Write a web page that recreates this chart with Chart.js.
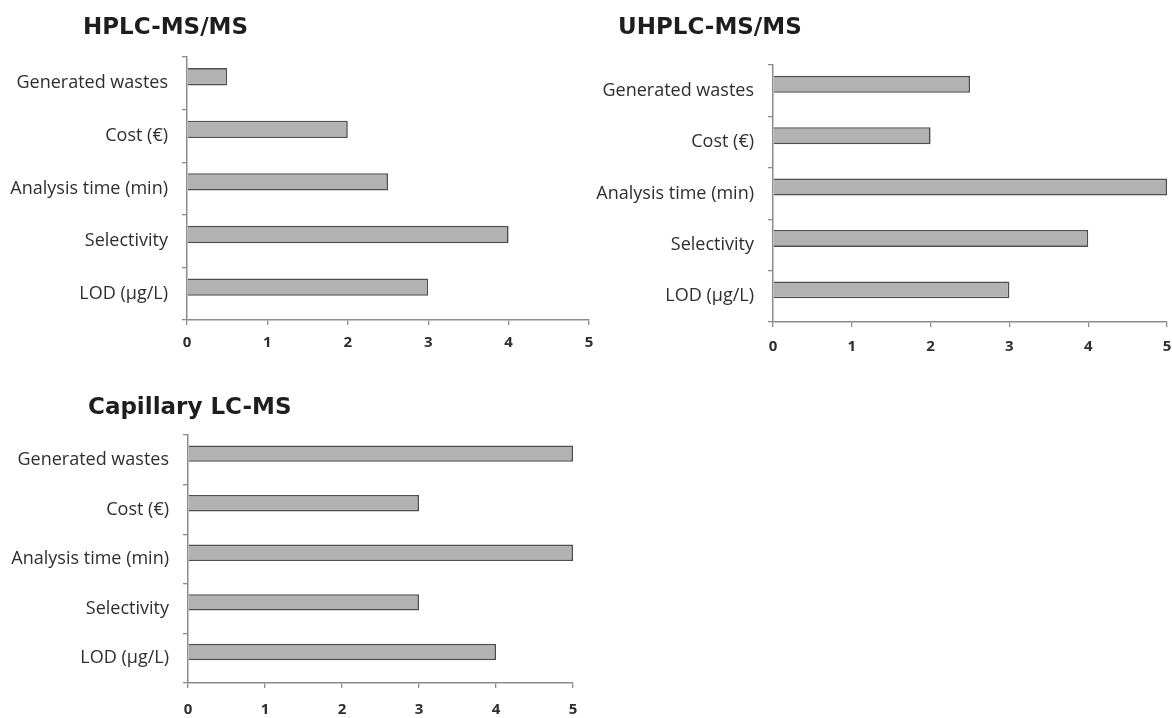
<!DOCTYPE html>
<html>
<head>
<meta charset="utf-8">
<script src="https://cdn.jsdelivr.net/npm/chart.js@4/dist/chart.umd.min.js"></script>
<style>
  html, body { margin: 0; padding: 0; background: #fff; }
  body { width: 1172px; height: 718px; position: relative; overflow: hidden; }
  canvas { position: absolute; }
</style>
</head>
<body>
<canvas id="c1" width="604" height="365" style="left:0px;top:0px;"></canvas>
<canvas id="c2" width="604" height="365" style="left:580px;top:0px;"></canvas>
<canvas id="c3" width="592" height="338" style="left:0px;top:380px;"></canvas>
<script>
const categories = ["Generated wastes", "Cost (€)", "Analysis time (min)", "Selectivity", "LOD (µg/L)"];
const hplcValues = [0.5, 2, 2.5, 4, 3];
const uhplcValues = [2.5, 2, 5, 4, 3];
const capillaryValues = [5, 3, 5, 3, 4];
const emptySeries = [null, null, null, null, null];
const xTickValues = [0, 1, 2, 3, 4, 5];
const titles = ["HPLC-MS/MS", "UHPLC-MS/MS", "Capillary LC-MS"];

const AXIS = '#8c8c8c';
const TEXT = '#2e2e2e';

function makeChart(id, title, values, L) {
  const titleShift = {
    id: 'titleShift',
    afterLayout(chart) {
      if (chart.titleBlock) { chart.titleBlock.left = L.titleX; }
    }
  };
  new Chart(document.getElementById(id), {
    type: 'bar',
    data: {
      labels: categories,
      datasets: [
        { data: values, backgroundColor: '#b2b2b2', borderColor: '#4e4e4e', borderWidth: 1.6,
          categoryPercentage: 0.5, barPercentage: 1.32 },
        { data: emptySeries, backgroundColor: '#b2b2b2', borderColor: '#4e4e4e', borderWidth: 1.6,
          categoryPercentage: 0.5, barPercentage: 1.32 }
      ]
    },
    plugins: [titleShift],
    options: {
      indexAxis: 'y',
      responsive: false,
      animation: false,
      layout: { padding: { left: 2, right: L.padRight, top: 0, bottom: 0 } },
      plugins: {
        legend: { display: false },
        tooltip: { enabled: false },
        title: {
          display: true, text: title, align: 'start', color: '#1e1e1e',
          font: { family: 'DejaVu Sans', weight: 'bold', size: 23 },
          padding: { top: L.titleTop, bottom: L.titleBottom }
        }
      },
      scales: {
        x: {
          type: 'linear', min: 0, max: 5,
          afterBuildTicks: (s) => { s.ticks = xTickValues.map(v => ({ value: v })); },
          afterFit: (s) => { s.height = L.xHeight; },
          border: { display: true, color: AXIS, width: 1.5 },
          grid: { display: true, drawOnChartArea: false, drawTicks: true, tickLength: 5, color: AXIS, lineWidth: 1.3 },
          ticks: { color: TEXT, padding: L.xPad, font: { family: 'Open Sans', weight: 'bold', size: 15 } }
        },
        y: {
          type: 'category',
          afterFit: (s) => { s.width = L.areaLeft - 2; },
          border: { display: true, color: AXIS, width: 1.5 },
          grid: { display: true, offset: true, drawOnChartArea: false, drawTicks: true, tickLength: 5, color: AXIS, lineWidth: 1.3 },
          ticks: { color: TEXT, padding: 14, font: { family: 'Open Sans', size: 18 } }
        }
      }
    }
  });
}

makeChart('c1', titles[0], hplcValues,
  { titleX: 83, areaLeft: 187, padRight: 15, xHeight: 45, xPad: 9, titleTop: 14, titleBottom: 15.4 });
makeChart('c2', titles[1], uhplcValues,
  { titleX: 38, areaLeft: 193, padRight: 17, xHeight: 43, xPad: 11, titleTop: 14, titleBottom: 23.4 });
makeChart('c3', titles[2], capillaryValues,
  { titleX: 88, areaLeft: 188, padRight: 19, xHeight: 35, xPad: 13, titleTop: 14, titleBottom: 13.4 });
</script>
</body>
</html>
